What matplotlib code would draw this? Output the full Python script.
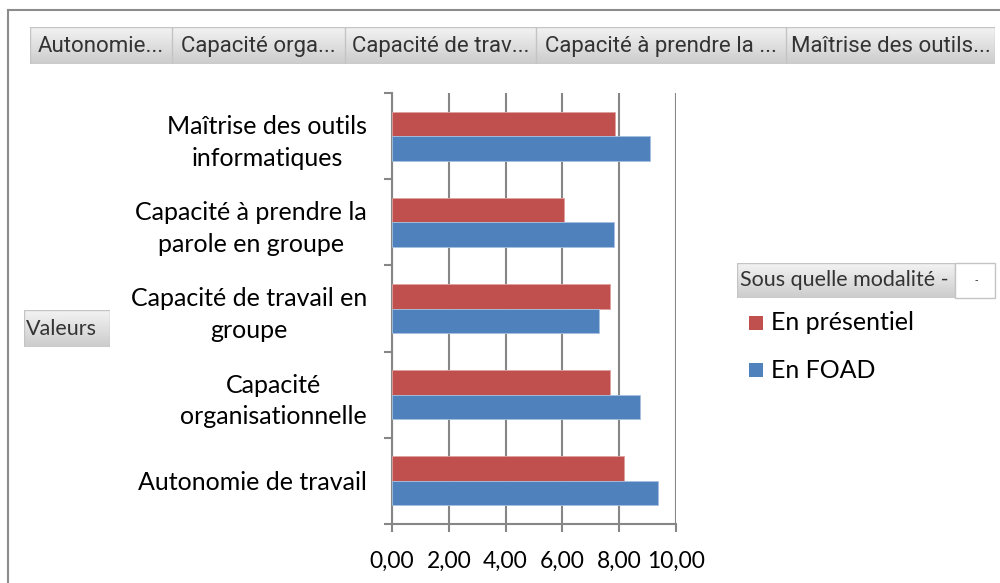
import numpy as np
import matplotlib.pyplot as plt
from matplotlib.patches import Rectangle

# average scores per skill, by training mode
categories = ["Autonomie de travail", "Capacité\norganisationnelle",
              "Capacité de travail en\ngroupe", "Capacité à prendre la\nparole en groupe",
              "Maîtrise des outils\ninformatiques"]
presentiel = [8.18, 7.68, 7.68, 6.07, 7.85]
foad = [9.37, 8.72, 7.29, 7.80, 9.08]
xticks = [0, 2, 4, 6, 8, 10]
xtick_labels = ["0,00", "2,00", "4,00", "6,00", "8,00", "10,00"]
filter_buttons = ["Autonomie...", "Capacité orga...", "Capacité de trav...",
                  "Capacité à prendre la ...", "Maîtrise des outils..."]
button_edges = [30, 172, 345, 536, 786, 995]

RED = "#C0504D"
BLUE = "#4F81BD"
GRID = "#868686"
FONT = "Lato"
BTN_FONT = "Roboto"

W, H = 1000, 583
fig = plt.figure(figsize=(W / 100, H / 100), dpi=100)
fig.patch.set_facecolor("white")

# outer chart frame
fig.add_artist(plt.Line2D([8 / W, 8 / W], [0, 1 - 10 / H], transform=fig.transFigure, color="#8c8c8c", lw=1.5))
fig.add_artist(plt.Line2D([8 / W, 1], [1 - 10 / H, 1 - 10 / H], transform=fig.transFigure, color="#8c8c8c", lw=1.5))

ax = fig.add_axes([392 / W, 1 - 524 / H, (676 - 392) / W, (524 - 93) / H])
y = np.arange(len(categories))
h = 0.285
ax.barh(y + h / 2, presentiel, height=h, color=RED, edgecolor="#e0a09e", linewidth=0.6, zorder=3)
ax.barh(y - h / 2, foad, height=h, color=BLUE, edgecolor="#a6c0e0", linewidth=0.6, zorder=3)

ax.set_xlim(0, 10)
ax.set_ylim(-0.5, len(categories) - 0.5)
ax.set_xticks(xticks)
ax.set_xticklabels(xtick_labels, fontsize=16.5, family=FONT)
ax.set_yticks(y)
ax.set_yticklabels(categories, fontsize=18, family=FONT, linespacing=1.45,
                   multialignment="center")
ax.tick_params(axis="y", length=0, pad=18)
ax.set_yticks(np.arange(len(categories) + 1) - 0.5, minor=True)
ax.tick_params(axis="y", which="minor", length=6, width=1.5, color=GRID, direction="out")
ax.tick_params(axis="x", length=6, width=1.5, color=GRID, direction="out", pad=13)
ax.grid(axis="x", color=GRID, lw=1.5, zorder=0)
for s in ["top", "right"]:
    ax.spines[s].set_visible(False)
for s in ["left", "bottom"]:
    ax.spines[s].set_color(GRID)
    ax.spines[s].set_linewidth(1.5)


def button(x0, y0, x1, y1, label, fs, family, center=False, pad=6):
    # gray gradient pivot-field button
    bax = fig.add_axes([x0 / W, 1 - y1 / H, (x1 - x0) / W, (y1 - y0) / H])
    grad = np.linspace(0.95, 0.80, 50).reshape(-1, 1)
    bax.imshow(grad, cmap="gray", vmin=0, vmax=1, aspect="auto", extent=[0, 1, 0, 1])
    bax.set_xlim(0, 1)
    bax.set_ylim(0, 1)
    bax.axis("off")
    bax.add_patch(Rectangle((0, 0), 1, 1, fill=False, edgecolor="#c4c4c4", lw=1))
    if center:
        bax.text(0.5, 0.47, label, fontsize=fs, family=family, color="#333333",
                 ha="center", va="center")
    else:
        bax.text(pad / (x1 - x0), 0.5, label, fontsize=fs, family=family, color="#333333",
                 ha="left", va="center")
    return bax


for i, lab in enumerate(filter_buttons):
    button(button_edges[i], 27, button_edges[i + 1], 64, lab, 16, BTN_FONT, center=True)

button(24, 310, 110, 347, "Valeurs", 15.5, FONT, pad=2)
button(737, 263, 955, 298, "Sous quelle modalité -", 15.5, FONT, pad=3)
fig.add_artist(Rectangle((955 / W, 1 - 298 / H), 40 / W, 35 / H, transform=fig.transFigure,
                         facecolor="white", edgecolor="#c4c4c4", lw=1))
fig.text(976 / W, 1 - 280 / H, "-", fontsize=7, ha="center", va="center", color="#333333")

# legend entries
for yy, col, lab in [(323, RED, "En présentiel"), (370, BLUE, "En FOAD")]:
    fig.add_artist(Rectangle((749 / W, 1 - (yy + 7) / H), 14 / W, 14 / H, transform=fig.transFigure,
                             facecolor=col, edgecolor="none"))
    fig.text(771 / W, 1 - yy / H, lab, fontsize=18, family=FONT, ha="left", va="center")

fig.savefig("out.png", dpi=100)
